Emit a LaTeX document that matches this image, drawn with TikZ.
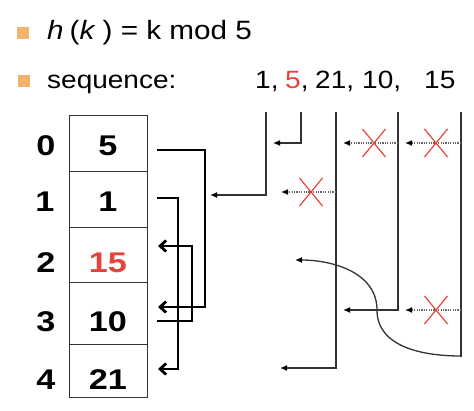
\documentclass[tikz,border=0pt]{standalone}
\usepackage{fontspec}
\setmainfont[FakeStretch=1.12]{Liberation Sans}
\newfontfamily\bigfnt[FakeStretch=1.2]{Liberation Sans}
\usetikzlibrary{arrows.meta,shapes.misc}
\definecolor{bul}{HTML}{F2B36E}
\definecolor{xred}{HTML}{E2453B}
\definecolor{ln}{HTML}{333333}
\begin{document}
\begin{tikzpicture}[x=1pt,y=-1pt,
  cell/.style={draw=ln, line width=1.2pt, minimum width=78pt, inner sep=0pt, anchor=north west},
  big/.style={font=\bigfnt\fontsize{28.5}{28.5}\selectfont\bfseries, anchor=base, inner sep=0pt},
  toptxt/.style={font=\fontsize{25}{25}\selectfont, anchor=base west, inner sep=0pt},
  bullet/.style={fill=bul, minimum width=12pt, minimum height=12pt, inner sep=0pt},
  ptr/.style={line width=2.8pt, line join=miter, -{Straight Barb[length=6pt,width=11pt]}},
  link/.style={draw=ln, line width=1.3pt, -{Latex[length=7pt,width=6pt,color=black]}},
  tried/.style={draw=ln!75, line width=1.3pt, dash pattern=on 1.2pt off 1.2pt, -{Latex[length=7pt,width=6pt,color=black]}},
  xmark/.style={cross out, draw=xred, line width=1.2pt, minimum width=22pt, minimum height=27pt, inner sep=0pt},
]
\useasboundingbox (0,0) rectangle (474,410);

% header
\node[bullet] (b1) at (23,32.5) {};
\node[bullet] (b2) at (23.5,80.5) {};
\node[toptxt, font=\fontsize{26.5}{26.5}\selectfont] (l1) at (47,39) {\textit{h}\kern6pt(\textit{k}\kern7pt) = k mod 5};
\node[toptxt] (l2) at (47,88) {sequence:};
\node[toptxt] (s1) at (255,88) {1,};
\node[toptxt] (s2) at (285,88) {\textcolor{xred}{5},};
\node[toptxt] (s3) at (315,88) {21,};
\node[toptxt] (s4) at (362,88) {10,};
\node[toptxt] (s5) at (424,88) {15};

% table
\node[cell, minimum height=56pt] (c0) at (69,115) {};
\node[cell, minimum height=56pt] (c1) at (69,171) {};
\node[cell, minimum height=55pt] (c2) at (69,227) {};
\node[cell, minimum height=62pt] (c3) at (69,282) {};
\node[cell, minimum height=53pt] (c4) at (69,344) {};

\node[big] (i0) at (46,155) {0};
\node[big] (i1) at (45,211) {1};
\node[big] (i2) at (46,272) {2};
\node[big] (i3) at (46,331) {3};
\node[big] (i4) at (46,389) {4};

\node[big] (v0) at (108,155) {5};
\node[big] (v1) at (108,211) {1};
\node[big, text=xred] (v2) at (108,272) {15};
\node[big] (v3) at (108,331) {10};
\node[big] (v4) at (108,389) {21};

% table pointers
\coordinate (o0) at (157,150);
\coordinate (o1) at (157,198);
\coordinate (o3) at (157,321);
\coordinate (t2) at (158,246);
\coordinate (t3) at (158,307);
\coordinate (t4) at (158,369);
\draw[ptr] (o0) -- (205,150) -- (205,307) -- (t3);
\draw[ptr] (o1) -- (178,198) -- (178,369) -- (t4);
\draw[ptr] (o3) -- (192,321) -- (192,246) -- (t2);

% insertion columns
\coordinate (k1) at (266,112);
\coordinate (k2) at (301,112);
\coordinate (k3) at (336,112);
\coordinate (k4) at (398,112);
\coordinate (k5) at (461,112);

\coordinate (a1) at (210,195);
\coordinate (a2) at (273,143);
\coordinate (a3) at (280,368);
\coordinate (a4) at (343,310);
\coordinate (a5) at (295,260);

\draw[link] (k1) -- (266,195) -- (a1);
\draw[link] (k2) -- (301,143) -- (a2);
\draw[link] (k3) -- (336,368) -- (a3);
\draw[link] (k4) -- (398,310) -- (a4);
\draw[draw=ln, line width=1.3pt] (k5) -- (461,357);
\draw[link] (461,356) to[out=180,in=-90] (377,310) to[out=90,in=0] (a5);

% failed probes
\draw[tried] (336,192) -- (281,192);
\draw[tried] (398,143) -- (343,143);
\draw[tried] (461,143) -- (405,143);
\draw[tried] (461,310) -- (405,310);
\node[xmark] (x1) at (311,192) {};
\node[xmark] (x2) at (374,143) {};
\node[xmark] (x3) at (436,143) {};
\node[xmark] (x4) at (436,310) {};
\end{tikzpicture}
\end{document}
